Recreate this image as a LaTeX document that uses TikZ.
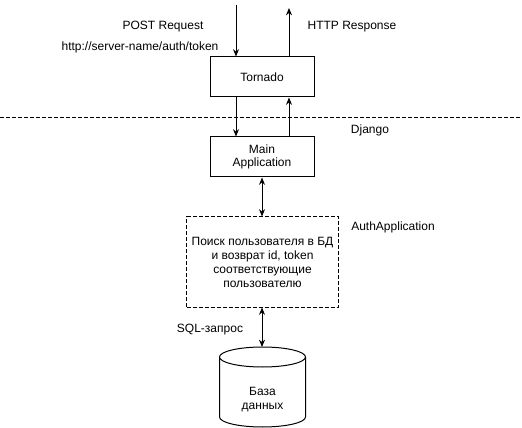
\documentclass[tikz,border=0pt]{standalone}
\usepackage{fontspec}
\setmainfont{Liberation Sans}
\usetikzlibrary{arrows.meta}

\tikzset{
  box/.style={draw, line width=0.75pt, minimum width=78pt, minimum height=30pt, align=center, font=\fontsize{9}{10}\selectfont},
  lbl/.style={align=center, font=\fontsize{9}{10.5}\selectfont},
  arr/.style={line width=0.75pt, -{Stealth[length=5.5pt,width=4.5pt]}},
  dbl/.style={line width=0.75pt, {Stealth[length=5.5pt,width=4.5pt]}-{Stealth[length=5.5pt,width=4.5pt]}},
  dsh/.style={dash pattern=on 3pt off 1.5pt}
}

\begin{document}
\begin{tikzpicture}[x=0.75pt,y=-0.75pt]
\useasboundingbox (0,0) rectangle (522,428);
\node[box] (tornado) at (262,77) {Tornado};
\node[box] (main) at (262,157) {Main\\Application};
\node[box, dsh, minimum width=114pt, minimum height=67.5pt, font=\fontsize{9}{10.5}\selectfont] (auth) at (262.5,262) {Поиск пользователя в БД\\и возврат id, token\\соответствующие\\пользователю};
\coordinate (reqin) at (236,5);
\coordinate (respout) at (289,8);
\coordinate (dbtop) at (262,347);
\coordinate (sepL) at (0,118);
\coordinate (sepR) at (522,118);
\draw[line width=0.75pt, dsh] (sepL) -- (sepR);
\draw[arr] (reqin) -- (reqin |- tornado.north);
\draw[arr] (tornado.north -| respout) -- (respout);
\draw[arr] (tornado.south -| reqin) -- (main.north -| reqin);
\draw[arr] (main.north -| respout) -- (tornado.south -| respout);
\draw[dbl] (main.south) -- (main.south |- auth.north);
\draw[dbl] (dbtop |- auth.south) -- (dbtop);
% database
\draw[line width=0.75pt] (219.5,357) -- (219.5,417) arc[start angle=180, end angle=360, x radius=32.25pt, y radius=7.5pt] -- (305.5,357);
\draw[line width=0.75pt, fill=white] (262.5,357) ellipse [x radius=32.25pt, y radius=7.5pt];
\node[lbl] (db) at (262.5,400) {База\\данных};
\node[lbl] (post) at (163,27) {POST Request};
\node[lbl] (url) at (140,47) {http://server-name/auth/token};
\node[lbl] (resp) at (352,27) {HTTP Response};
\node[lbl] (django) at (370,130) {Django};
\node[lbl] (authname) at (393,227) {AuthApplication};
\node[lbl] (sql) at (210,330) {SQL-запрос};
\end{tikzpicture}
\end{document}
